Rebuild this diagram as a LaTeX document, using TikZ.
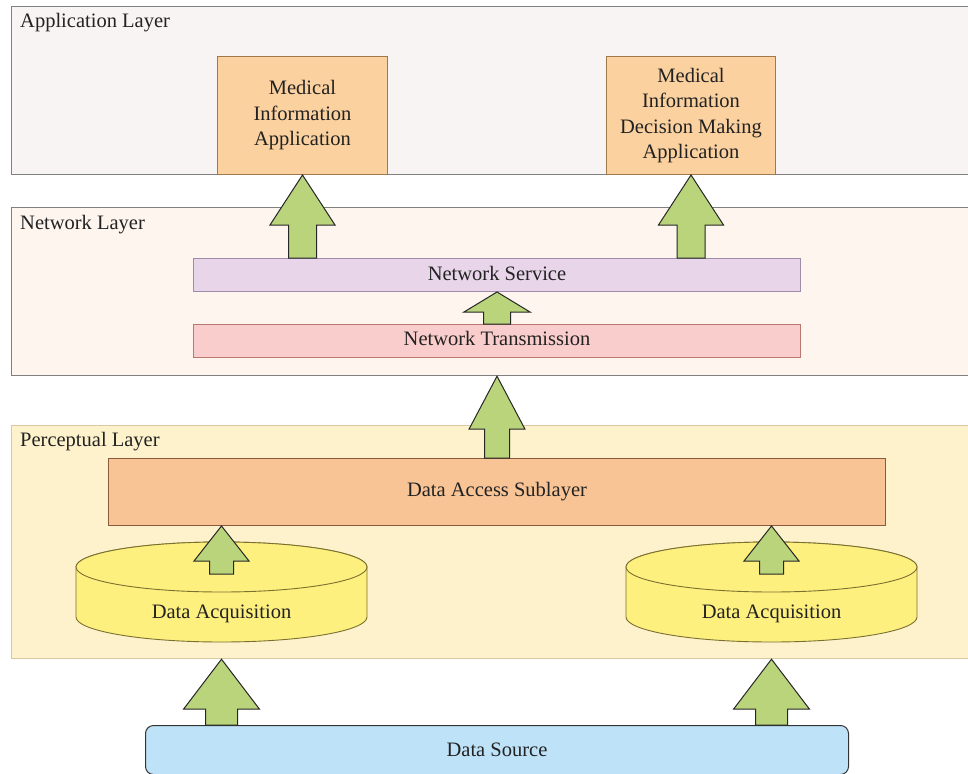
\documentclass[tikz,border=0pt]{standalone}
\usepackage{fontspec}
\setmainfont{Liberation Serif}
\usetikzlibrary{calc}
\definecolor{appfill}{HTML}{F8F4F3}
\definecolor{netfill}{HTML}{FDF5EE}
\definecolor{perfill}{HTML}{FEF2CC}
\definecolor{perline}{HTML}{D8C9A0}
\definecolor{layline}{HTML}{808080}
\definecolor{boxfill}{HTML}{FBD19F}
\definecolor{boxline}{HTML}{A0784A}
\definecolor{nsfill}{HTML}{E8D5E9}
\definecolor{nsline}{HTML}{A08CA8}
\definecolor{ntfill}{HTML}{F9CDCB}
\definecolor{ntline}{HTML}{B87770}
\definecolor{dafill}{HTML}{F8C496}
\definecolor{daline}{HTML}{8B5A3C}
\definecolor{cylfill}{HTML}{FEF07E}
\definecolor{cylline}{HTML}{7A7030}
\definecolor{srcfill}{HTML}{BEE3F8}
\definecolor{arrfill}{HTML}{B9D47B}
\definecolor{txt}{HTML}{222222}
\newcommand\blockarr[5]{%
  \draw[blockarrow] let \p1=(#1), \p2=(#2) in
    (\x2-#5pt,\y1) -- (\x2+#5pt,\y1) -- (\x2+#5pt,\y2-#3pt) -- (\x2+#4pt,\y2-#3pt)
    -- (\x2,\y2) -- (\x2-#4pt,\y2-#3pt) -- (\x2-#5pt,\y2-#3pt) -- cycle;}
\begin{document}
\begin{tikzpicture}[x=1pt,y=-1pt,
  font=\fontsize{20.5}{25.5}\selectfont, text=txt,
  layer/.style={draw=layline, line width=1.2pt, inner sep=0pt, anchor=north west},
  lbl/.style={anchor=base west, inner sep=0pt},
  plainbox/.style={line width=1pt, inner sep=0pt, anchor=north west, align=center},
  blockarrow/.style={draw=black!85, fill=arrfill, line width=1pt, line join=miter},
  cyl/.style={draw=cylline, fill=cylfill, line width=0.9pt}]
\useasboundingbox (0,0) rectangle (968,773);
% layers
\node[layer, fill=appfill, minimum width=960, minimum height=168] (app) at (11,6) {};
\node[lbl] (applbl) at (20,28) {Application Layer};
\node[layer, fill=netfill, minimum width=960, minimum height=168] (net) at (11,207) {};
\node[lbl] (netlbl) at (20,229) {Network Layer};
\node[layer, draw=perline, fill=perfill, minimum width=960, minimum height=233] (per) at (11,425) {};
\node[lbl] (perlbl) at (20,446) {Perceptual Layer};
% application boxes
\node[plainbox, draw=boxline, fill=boxfill, minimum width=170, minimum height=118] (mia) at (217,56) {Medical\\Information\\Application};
\node[plainbox, draw=boxline, fill=boxfill, minimum width=169, minimum height=118] (midm) at (606,56) {Medical\\Information\\Decision Making\\Application};
% network
\node[plainbox, draw=nsline, fill=nsfill, minimum width=607, minimum height=33, text depth=4pt] (ns) at (193,258) {Network Service};
\node[plainbox, draw=ntline, fill=ntfill, minimum width=607, minimum height=33, text depth=6pt] (nt) at (193,324) {Network Transmission};
% perceptual
\node[plainbox, draw=daline, fill=dafill, minimum width=777, minimum height=67] (das) at (108,458) {Data Access Sublayer};
% cylinders
\draw[cyl] (76,567) -- (76,617) arc[start angle=180, end angle=360, x radius=145.5pt, y radius=25pt]
  -- (367,567) arc[start angle=0, end angle=180, x radius=145.5pt, y radius=25pt] -- cycle;
\draw[cyl] (221.5,567) ellipse [x radius=145.5pt, y radius=25pt];
\node (da1) at (221.5,614) {Data Acquisition};
\draw[cyl] (626,567) -- (626,617) arc[start angle=180, end angle=360, x radius=145.5pt, y radius=25pt]
  -- (917,567) arc[start angle=0, end angle=180, x radius=145.5pt, y radius=25pt] -- cycle;
\draw[cyl] (771.5,567) ellipse [x radius=145.5pt, y radius=25pt];
\node (da2) at (771.5,614) {Data Acquisition};
\coordinate (c1) at (221.5,574);
\coordinate (c2) at (771.5,574);
% data source
\node[plainbox, draw=black!80, fill=srcfill, rounded corners=8pt, minimum width=703, minimum height=49] (src) at (145,725) {Data Source};
% arrows
\blockarr{ns.north -| mia.south}{mia.south}{50}{32.5}{14}
\blockarr{ns.north -| midm.south}{midm.south}{50}{32.5}{14}
\blockarr{nt.north}{ns.south}{20}{33}{13.5}
\blockarr{das.north}{das.north |- net.south}{53}{28}{12.5}
\blockarr{c1}{c1 |- das.south}{35}{27.5}{12}
\blockarr{c2}{c2 |- das.south}{35}{27.5}{12}
\blockarr{c1 |- src.north}{c1 |- per.south}{50}{38}{16}
\blockarr{c2 |- src.north}{c2 |- per.south}{50}{38}{16}
\end{tikzpicture}
\end{document}
